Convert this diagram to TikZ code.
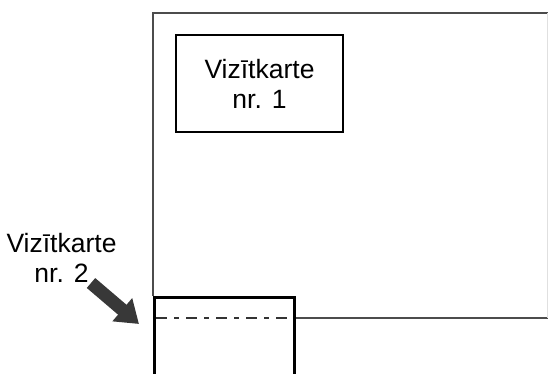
\documentclass[tikz,border=0pt]{standalone}
\usepackage{fontspec}
\setmainfont{Liberation Sans}
\usetikzlibrary{arrows.meta}
\tikzset{
  thinline/.style={draw=black!70, line width=1.1pt},
  cardbox/.style={draw=black, line width=2.8pt, inner sep=0pt},
  lbl/.style={align=center, font=\fontsize{26.5}{30}\selectfont, inner sep=0pt},
  blockarrow/.style={draw=black!78, line width=13pt, -{Triangle[width=29pt,length=22pt]}},
}
\begin{document}
\begin{tikzpicture}[x=1pt,y=-1pt]
\useasboundingbox (0,0) rectangle (548,374);
\clip (0,0) rectangle (548,374);
% sheet outline
\coordinate (tl) at (153,13);
\coordinate (tr) at (549,13);
\coordinate (bl) at (153,296);
\coordinate (br) at (549,318);
\coordinate (bm) at (293,318);
\draw[thinline] (bl) -- (tl) -- (tr);
\draw[thinline] (bm) -- (br);
\draw[draw=black!12, line width=0.8pt] (547,13) -- (547,318);
% card 1
\node[cardbox, minimum width=167pt, minimum height=97pt] (c1) at (259.5,83.5) {};
\node[lbl] (t1) at (c1.center) {Vizītkarte\\nr. 1};
% card 2
\node[cardbox, minimum width=140pt, minimum height=90pt, anchor=north west] (c2) at (153,296) {};
\coordinate (dl) at (156,318);
\coordinate (dr) at (291,318);
\draw[black!80, line width=1.1pt, dash pattern=on 11pt off 7pt on 5pt off 7pt] (dl) -- (dr);
% label 2 and arrow
\node[lbl] (t2) at (61.5,258) {Vizītkarte\\nr. 2};
\coordinate (atail) at (91,283);
\coordinate (atip) at (139,324);
\draw[blockarrow] (atail) -- (atip);
\end{tikzpicture}
\end{document}
